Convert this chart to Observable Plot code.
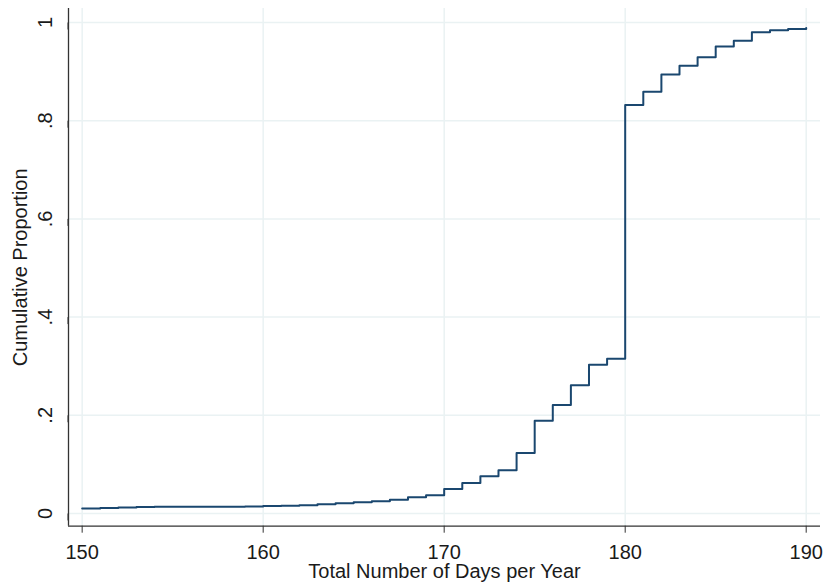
<!DOCTYPE html>
<html>
<head>
<meta charset="utf-8">
<script src="https://cdn.jsdelivr.net/npm/d3@7"></script>
<script src="https://cdn.jsdelivr.net/npm/@observablehq/plot@0.6"></script>
<style>
  html, body { margin: 0; padding: 0; background: #fff; }
  #chart svg { display: block; }
</style>
</head>
<body>
<div id="chart"></div>
<script>
// Days per year (x) and cumulative proportion (y)
const days = [150,151,152,153,154,155,156,157,158,159,160,161,162,163,164,165,166,167,168,169,
              170,171,172,173,174,175,176,177,178,179,180,181,182,183,184,185,186,187,188,189,190];
const cumProp = [0.010,0.011,0.012,0.013,0.0135,0.0135,0.0135,0.0135,0.0135,0.014,
                 0.015,0.016,0.017,0.019,0.021,0.023,0.025,0.028,0.033,0.037,
                 0.050,0.062,0.076,0.088,0.123,0.189,0.221,0.261,0.303,0.315,
                 0.832,0.859,0.894,0.912,0.929,0.951,0.963,0.980,0.984,0.987,0.989];
const xTicks = [150, 160, 170, 180, 190];
const yTicks = [0, 0.2, 0.4, 0.6, 0.8, 1];
const xTitle = "Total Number of Days per Year";
const yTitle = "Cumulative Proportion";

const data = days.map((d, i) => ({day: d, p: cumProp[i]}));
const xDomain = [149.245, 190.79];
const yDomain = [-0.0259, 1.0285];
const fmtY = d => d === 0 ? "0" : d === 1 ? "1" : String(d).replace(/^0/, "");

const chart = Plot.plot({
  width: 826,
  height: 588,
  marginLeft: 68,
  marginRight: 6,
  marginTop: 8,
  marginBottom: 62.3,
  style: {fontFamily: "'Liberation Sans', Arial, sans-serif", fontSize: "20px", color: "#1a1a1a", background: "#fff"},
  x: {domain: xDomain},
  y: {domain: yDomain},
  marks: [
    Plot.gridX(xTicks, {stroke: "#eaf2f3", strokeOpacity: 1, strokeWidth: 1.5}),
    Plot.gridY(yTicks, {stroke: "#eaf2f3", strokeOpacity: 1, strokeWidth: 1.5}),
    Plot.ruleX([xDomain[0]], {stroke: "#333", strokeWidth: 1.3}),
    Plot.ruleY([yDomain[0]], {stroke: "#333", strokeWidth: 1.3}),
    Plot.axisX(xTicks, {tickSize: 7, tickPadding: 12, fontSize: 20, stroke: "#333",
      label: xTitle, labelAnchor: "center", labelOffset: 52, labelArrow: "none"}),
    Plot.axisY(yTicks, {tickSize: 7, tickPadding: 16, fontSize: 20, stroke: "#333",
      rotate: -90, textAnchor: "middle", tickFormat: fmtY,
      label: yTitle, labelAnchor: "center", labelOffset: 56, labelArrow: "none"}),
    Plot.line(data, {x: "day", y: "p", curve: "step-after", stroke: "#1a476f", strokeWidth: 2})
  ]
});
document.getElementById("chart").appendChild(chart);
</script>
</body>
</html>
